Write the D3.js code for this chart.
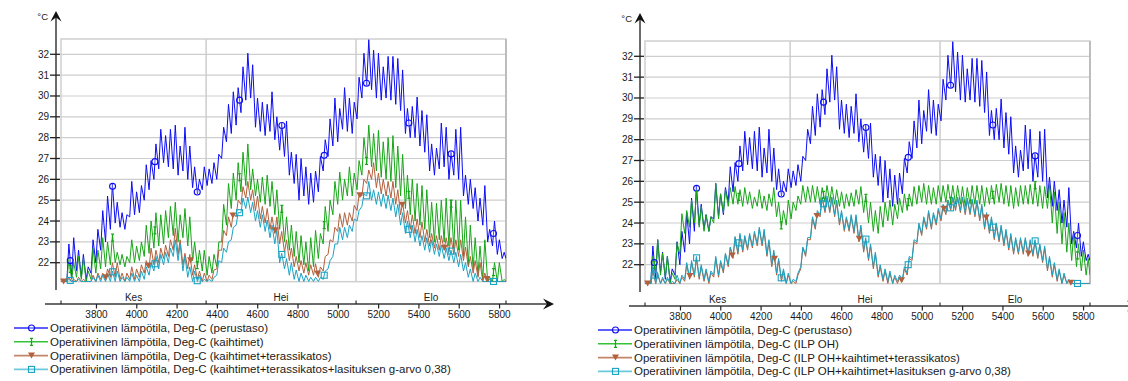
<!DOCTYPE html>
<html><head><meta charset="utf-8">
<script src="https://cdn.jsdelivr.net/npm/d3@7"></script>
<style>
body{margin:0;background:#fff}
svg{display:block}
text{font-family:"Liberation Sans",Arial,sans-serif;fill:#1a1a1a}
</style>
</head><body>
<svg id="c" width="1128" height="381"></svg>
<script>
// ---------- data ----------
const startHour = 3624, endHour = 5832;          // 1.6. – 1.9. (hours of year)
const yTicks = [22,23,24,25,26,27,28,29,30,31,32];
const xTicks = [3800,4000,4200,4400,4600,4800,5000,5200,5400,5600,5800];
const monthNames = ["Kes","Hei","Elo"];
const monthStarts = [3624,4344,5088,5832];
const unitLabel = "°C";

// daily maxima / minima, one value per day (92 days)
const baseMax = [
21.1,22.9,23.2,22.6,22.4,21.8,23.1,23.6,24.5,25.2,
25.8,24.9,24.4,24.3,25.9,25.4,25.7,26.7,26.9,27.7,
28.4,28.1,28.4,28.6,27.6,28.5,27.6,26.6,26.0,26.6,
26.5,26.8,27.2,28.5,29.6,30.2,30.4,31.4,32.05,31.5,
29.9,29.7,29.6,30.2,29.0,28.7,28.8,27.3,27.2,27.0,
26.6,26.3,26.4,27.1,27.9,28.9,29.9,29.4,30.4,29.9,
29.7,30.9,32.05,32.7,32.2,32.05,31.4,31.9,31.9,31.8,
31.25,29.4,29.5,29.95,29.3,29.1,27.7,27.5,28.7,28.5,
27.3,28.4,28.5,26.2,26.0,25.6,25.1,25.7,23.6,24.0,
23.1,22.5];
const baseMin = [
21.1,21.1,21.3,21.6,21.3,21.2,21.5,22.0,22.6,23.0,
23.6,23.9,23.7,23.6,24.2,24.3,24.4,25.0,25.5,26.0,
26.5,26.8,26.6,26.5,26.2,26.4,26.0,25.6,25.3,25.5,
25.7,25.8,26.0,27.0,27.8,28.2,28.6,29.2,29.8,29.9,
28.5,28.3,28.1,28.3,27.9,27.4,27.1,26.2,25.8,25.0,
25.2,24.8,24.9,25.4,26.4,27.1,27.6,27.8,28.4,28.3,
28.2,28.9,29.9,30.5,30.3,29.9,29.8,29.9,29.8,29.6,
29.3,28.2,28.0,28.0,27.6,27.3,26.4,26.2,26.5,26.6,
26.0,26.2,26.0,25.2,24.8,24.6,24.0,23.8,23.0,22.8,
22.4,22.2];

// left chart
const blindsMax = [
21.1,22.2,22.0,22.3,22.2,21.6,22.7,22.6,23.2,23.0,
23.3,22.5,22.4,22.3,23.1,22.8,23.0,23.8,24.0,24.4,
24.3,24.5,24.7,24.9,24.3,24.6,24.2,23.0,22.6,22.6,
22.3,22.4,23.0,24.8,25.8,26.3,26.8,27.3,27.7,26.5,
26.0,26.1,26.2,25.9,25.5,24.7,24.2,23.8,23.5,23.3,
23.0,23.2,23.55,23.4,24.7,25.0,25.9,26.35,26.0,26.6,
26.3,26.9,28.0,28.6,28.2,28.35,27.8,28.0,28.1,27.6,
27.2,26.2,26.0,25.8,25.7,25.5,24.9,24.85,25.0,25.1,
25.0,25.0,25.0,24.2,23.8,23.2,22.8,23.1,21.3,22.0,
22.0,21.2];
const blindsMin = [
21.1,21.1,21.2,21.3,21.2,21.1,21.2,21.5,21.7,21.8,
21.9,22.0,21.9,21.8,22.0,22.0,22.1,22.3,22.45,22.7,
22.8,22.9,23.2,23.3,23.0,23.2,22.8,22.1,21.8,21.6,
21.4,21.5,21.8,23.0,23.8,24.6,25.0,25.4,25.7,25.5,
25.2,24.9,24.8,24.7,24.3,23.6,23.0,22.6,22.3,22.0,
21.9,21.6,21.8,22.2,22.9,23.5,24.3,24.8,25.0,25.2,
25.2,25.5,26.2,26.8,26.6,26.4,26.1,26.0,25.9,25.6,
25.2,24.6,24.3,24.0,23.8,23.6,23.2,23.0,23.1,23.0,
22.8,22.7,22.6,22.3,21.9,21.7,21.4,21.2,21.1,21.1,
21.1,21.1];
const roofMax = [
21.1,21.3,21.2,21.3,21.2,21.1,21.4,21.5,21.5,21.7,
22.0,22.0,21.5,21.5,21.8,21.7,21.9,22.1,22.7,22.6,
22.7,22.85,23.1,23.65,23.1,22.45,22.4,21.9,21.6,21.5,
21.4,21.65,22.6,23.55,24.2,24.4,25.0,25.65,25.9,25.5,
25.2,24.7,24.6,24.2,24.2,23.5,23.1,22.7,22.3,22.1,
22.0,21.9,21.95,21.8,22.3,23.1,23.7,24.35,24.4,24.4,
24.75,25.25,26.0,26.45,26.8,26.3,26.0,25.9,25.9,25.5,
24.9,24.5,24.3,24.1,23.95,23.6,23.4,23.3,23.3,23.2,
23.2,23.1,23.1,22.75,22.3,22.1,22.0,21.5,21.2,21.1,
21.1,21.1];
const roofMin = [
21.1,21.1,21.1,21.1,21.1,21.1,21.1,21.1,21.2,21.2,
21.3,21.3,21.2,21.1,21.2,21.2,21.3,21.5,21.75,21.9,
22.0,22.2,22.3,22.6,22.4,21.9,21.7,21.4,21.2,21.1,
21.1,21.2,21.7,22.6,23.3,23.7,24.2,24.8,25.1,25.0,
24.5,24.1,23.9,23.6,23.4,22.9,22.5,22.1,21.8,21.6,
21.5,21.4,21.4,21.3,21.6,22.4,23.0,23.5,23.7,23.8,
24.0,24.5,25.2,25.8,26.0,25.6,25.3,25.2,25.1,24.8,
24.3,23.9,23.6,23.4,23.2,23.0,22.8,22.7,22.6,22.6,
22.5,22.4,22.3,22.1,21.8,21.5,21.3,21.1,21.1,21.1,
21.1,21.1];
const glazingMax = [
21.1,21.2,21.1,21.2,21.1,21.1,21.3,21.4,21.4,21.5,
21.6,21.6,21.3,21.3,21.5,21.4,21.6,21.8,22.0,22.3,
22.4,22.5,22.7,23.1,22.9,22.3,21.8,21.6,21.4,21.2,
21.2,21.3,22.1,22.7,23.0,23.7,24.4,25.1,25.15,24.9,
24.5,24.3,24.05,23.8,23.6,22.45,22.2,22.0,21.65,21.5,
21.4,21.3,21.3,21.3,21.6,22.1,22.9,23.7,23.7,23.8,
24.1,24.5,25.3,25.9,25.5,25.4,25.3,25.25,25.1,24.8,
24.4,24.0,23.8,23.6,23.3,23.2,23.1,22.9,22.85,22.7,
22.6,22.5,22.4,22.0,21.7,21.5,21.3,21.1,21.1,21.1,
21.1,21.1];
const glazingMin = [
21.1,21.1,21.1,21.1,21.1,21.1,21.1,21.1,21.1,21.1,
21.1,21.1,21.1,21.1,21.1,21.1,21.1,21.2,21.4,21.6,
21.7,21.9,22.0,22.3,22.1,21.6,21.3,21.1,21.1,21.1,
21.1,21.1,21.4,22.0,22.5,23.1,23.8,24.4,24.6,24.4,
24.0,23.7,23.5,23.2,22.9,22.0,21.7,21.4,21.2,21.1,
21.1,21.1,21.1,21.1,21.2,21.7,22.3,22.9,23.1,23.2,
23.5,24.0,24.7,25.2,25.0,24.8,24.7,24.6,24.5,24.2,
23.8,23.4,23.2,23.0,22.8,22.6,22.5,22.4,22.3,22.2,
22.1,22.0,21.8,21.6,21.3,21.1,21.1,21.1,21.1,21.1,
21.1,21.1];

// right chart
const hpMax = [
21.1,22.4,23.2,22.55,22.4,21.6,23.05,24.45,24.6,25.1,
25.5,24.8,24.4,24.3,25.9,25.4,25.6,25.7,25.75,25.6,
25.7,25.5,25.25,25.6,25.3,25.4,25.7,25.0,24.6,25.1,
25.0,25.3,25.8,25.75,25.8,25.75,25.7,25.8,25.75,25.6,
25.5,25.4,25.45,25.6,25.75,25.3,25.0,24.6,24.8,25.0,
25.1,24.9,25.2,25.4,25.4,25.75,25.8,25.9,25.8,25.7,
25.8,25.8,25.85,25.8,25.8,25.75,25.7,25.8,25.8,25.8,
25.7,25.8,25.85,25.9,25.8,25.8,25.7,25.8,25.8,25.85,
25.9,25.8,25.75,25.9,25.5,25.0,24.5,24.0,23.5,23.0,
22.7,22.3];
const hpMin = [
21.1,21.1,21.6,21.5,21.4,21.1,21.3,22.5,23.5,23.8,
24.0,23.8,23.6,23.6,24.0,24.2,24.5,24.8,24.9,24.9,
24.8,24.9,24.7,24.8,24.7,24.6,24.8,24.3,23.8,23.9,
24.2,24.6,24.9,25.0,25.0,25.0,24.9,25.0,25.0,24.9,
24.8,24.7,24.8,24.8,24.9,24.5,24.0,23.6,23.5,23.8,
24.1,23.9,24.2,24.5,24.6,24.8,24.9,25.0,24.9,24.9,
24.9,25.0,25.0,25.0,24.9,24.9,24.8,24.9,24.9,24.9,
24.8,24.9,24.9,25.0,24.9,24.8,24.7,24.8,24.9,24.9,
24.9,24.8,24.7,24.7,24.0,23.5,23.0,22.6,22.2,21.9,
21.7,21.5];
const hpRoofMax = [
21.1,21.7,21.5,21.3,21.3,21.1,21.3,21.4,22.0,22.1,
22.3,21.9,21.7,21.6,22.3,22.1,22.5,22.8,23.3,23.4,
23.3,23.4,23.5,23.7,23.6,23.1,22.6,22.2,21.7,21.5,
21.2,21.5,22.8,23.2,24.2,24.5,25.2,25.2,25.2,25.0,
24.5,24.2,24.3,24.3,23.8,23.2,22.9,22.5,21.9,21.7,
21.6,21.4,21.4,21.8,22.3,23.1,23.9,24.2,24.5,24.4,
24.6,24.8,25.1,25.2,25.2,25.2,25.1,25.1,25.0,24.8,
24.4,24.2,23.9,23.8,23.6,23.4,23.2,23.2,23.2,23.1,
23.1,22.9,22.8,22.3,22.0,21.7,21.5,21.2,21.1,21.1,
21.1,21.1];
const hpRoofMin = [
21.1,21.1,21.1,21.1,21.1,21.1,21.1,21.1,21.2,21.3,
21.4,21.3,21.2,21.1,21.4,21.4,21.6,21.9,22.3,22.5,
22.6,22.7,22.8,22.9,22.9,22.4,21.9,21.5,21.2,21.1,
21.1,21.1,21.8,22.4,23.2,23.7,24.3,24.5,24.5,24.3,
23.9,23.6,23.6,23.5,23.1,22.6,22.2,21.8,21.4,21.2,
21.1,21.1,21.1,21.2,21.5,22.2,23.0,23.4,23.7,23.7,
23.9,24.1,24.4,24.6,24.6,24.5,24.4,24.4,24.3,24.1,
23.7,23.5,23.2,23.1,22.9,22.7,22.5,22.5,22.5,22.4,
22.4,22.3,22.1,21.7,21.4,21.2,21.1,21.1,21.1,21.1,
21.1,21.1];
const hpGlazingMax = [
21.1,21.9,21.6,21.4,21.4,21.2,21.5,21.5,22.1,22.2,
22.4,22.0,21.8,21.7,22.4,22.2,22.55,22.85,23.35,23.5,
23.4,23.5,23.6,23.8,23.7,23.2,22.7,22.3,21.8,21.6,
21.3,21.6,22.85,23.3,24.3,24.6,25.25,25.3,25.25,25.1,
24.6,24.3,24.4,24.4,23.9,23.3,23.0,22.6,22.0,21.8,
21.7,21.5,21.5,21.9,22.4,23.2,24.0,24.3,24.6,24.5,
24.7,24.9,25.1,25.25,25.25,25.25,25.2,25.15,25.1,24.9,
24.5,24.3,24.0,23.9,23.7,23.5,23.3,23.3,23.3,23.2,
23.2,23.0,22.9,22.4,22.1,21.8,21.6,21.3,21.1,21.1,
21.1,21.1];
const hpGlazingMin = [
21.1,21.1,21.1,21.1,21.1,21.1,21.1,21.1,21.3,21.4,
21.5,21.4,21.3,21.2,21.5,21.5,21.7,22.0,22.4,22.6,
22.7,22.8,22.9,23.0,23.0,22.5,22.0,21.6,21.3,21.1,
21.1,21.2,21.9,22.5,23.3,23.8,24.4,24.6,24.6,24.4,
24.0,23.7,23.7,23.6,23.2,22.7,22.3,21.9,21.5,21.3,
21.2,21.1,21.2,21.3,21.6,22.3,23.1,23.5,23.8,23.8,
24.0,24.2,24.5,24.7,24.7,24.6,24.5,24.5,24.4,24.2,
23.8,23.6,23.3,23.2,23.0,22.8,22.6,22.6,22.6,22.5,
22.5,22.4,22.2,21.8,21.5,21.3,21.1,21.1,21.1,21.1,
21.1,21.1];

const leftLabels = [
 "Operatiivinen lämpötila, Deg-C (perustaso)",
 "Operatiivinen lämpötila, Deg-C (kaihtimet)",
 "Operatiivinen lämpötila, Deg-C (kaihtimet+terassikatos)",
 "Operatiivinen lämpötila, Deg-C (kaihtimet+terassikatos+lasituksen g-arvo 0,38)"];
const rightLabels = [
 "Operatiivinen lämpötila, Deg-C (perustaso)",
 "Operatiivinen lämpötila, Deg-C (ILP OH)",
 "Operatiivinen lämpötila, Deg-C (ILP OH+kaihtimet+terassikatos)",
 "Operatiivinen lämpötila, Deg-C (ILP OH+kaihtimet+lasituksen g-arvo 0,38)"];

// ---------- drawing ----------
const styles = [
  {color:"#0c0cf5", legend:"#2a2aff", marker:"circle"},
  {color:"#17a617", legend:"#33c433", marker:"ibar"},
  {color:"#b2603d", legend:"#c48468", marker:"tri"},
  {color:"#1aa3c4", legend:"#6cc9dc", marker:"square"}
];

function toPoints(maxArr, minArr){
  const pts = [];
  maxArr.forEach((mx, d) => {
    const h0 = startHour + d*24;
    pts.push([h0 + 5, minArr[d]]);
    pts.push([h0 + 15, mx]);
  });
  pts.unshift([startHour, minArr[0]]);
  pts.push([endHour, minArr[minArr.length-1]]);
  return pts;
}
function valueAt(pts, h){
  for (let i=1;i<pts.length;i++){
    if (pts[i][0] >= h){
      const a=pts[i-1], b=pts[i];
      return a[1] + (b[1]-a[1])*(h-a[0])/(b[0]-a[0]);
    }
  }
  return pts[pts.length-1][1];
}

function drawMarker(g, type, x, y, color){
  if (type==="circle"){
    g.append("circle").attr("cx",x).attr("cy",y).attr("r",3)
      .attr("fill","#fff").attr("fill-opacity",0.3).attr("stroke",color).attr("stroke-width",1.1);
  } else if (type==="ibar"){
    g.append("path").attr("d",`M${x},${y-3.5}V${y+3.5}M${x-1.5},${y-3.5}H${x+1.5}M${x-1.5},${y+3.5}H${x+1.5}`)
      .attr("stroke",color).attr("stroke-width",1.2).attr("fill","none");
  } else if (type==="tri"){
    g.append("path").attr("d",`M${x-3.5},${y-3}L${x+3.5},${y-3}L${x},${y+3}Z`).attr("fill",color);
  } else {
    g.append("rect").attr("x",x-3).attr("y",y-3).attr("width",6).attr("height",6)
      .attr("fill","none").attr("stroke",color).attr("stroke-width",1.1);
  }
}

const svg = d3.select("#c");

function chart(dx, dy, seriesData, labels, id){
  const g = svg.append("g").attr("transform",`translate(${dx},${dy})`);
  const x = d3.scaleLinear().domain([startHour,endHour]).range([61,506]);
  const y = d3.scaleLinear().domain([22,32]).range([262.7,54.3]);
  const top = 39, bottom = y(21.09);

  // grid
  g.append("g").selectAll("line").data(yTicks).join("line")
    .attr("x1",61).attr("x2",506).attr("y1",d=>y(d)).attr("y2",d=>y(d))
    .attr("stroke","#cdcdcd").attr("stroke-width",1.2);
  g.append("g").selectAll("line").data(monthStarts.slice(1,3)).join("line")
    .attr("x1",d=>x(d)).attr("x2",d=>x(d)).attr("y1",top).attr("y2",bottom)
    .attr("stroke","#cdcdcd").attr("stroke-width",1.5);
  g.append("rect").attr("x",61).attr("y",top).attr("width",445).attr("height",bottom-top)
    .attr("fill","none").attr("stroke","#cfcfcf").attr("stroke-width",1.5);
  g.append("line").attr("x1",506).attr("x2",506).attr("y1",top).attr("y2",bottom)
    .attr("stroke","#bdbdbd").attr("stroke-width",2);

  // series
  g.append("clipPath").attr("id","clip"+id).append("rect")
    .attr("x",61).attr("y",top).attr("width",445).attr("height",bottom-top+1);
  const sg = g.append("g").attr("clip-path",`url(#clip${id})`);
  const line = d3.line().x(d=>x(d[0])).y(d=>y(d[1]));
  const mg = g.append("g");
  seriesData.forEach((s, i) => {
    const st = styles[i];
    const pts = toPoints(s[0], s[1]);
    sg.append("path").attr("d",line(pts)).attr("fill","none")
      .attr("stroke",st.color).attr("stroke-width",1).attr("stroke-linejoin","round");
    const off = st.marker==="tri" ? 3637 : 3670;
    for (let h=off; h<endHour; h+=210){
      drawMarker(mg, st.marker, x(h), y(valueAt(pts,h)), st.color);
    }
  });

  // y axis
  const axc = "#3a3a3a";
  g.append("line").attr("x1",56).attr("x2",56).attr("y1",290).attr("y2",16)
    .attr("stroke",axc).attr("stroke-width",1.5);
  g.append("path").attr("d","M56,11L61.5,21.5L56,17.5L50.5,21.5Z").attr("fill","#111");
  g.append("g").selectAll("line").data(yTicks).join("line")
    .attr("x1",50).attr("x2",60).attr("y1",d=>y(d)).attr("y2",d=>y(d))
    .attr("stroke","#222").attr("stroke-width",1.3);
  g.append("g").selectAll("text").data(yTicks).join("text")
    .attr("x",49).attr("y",d=>y(d)+3.5).attr("text-anchor","end")
    .attr("font-size","10px").text(d=>d);
  g.append("text").attr("x",48).attr("y",20).attr("text-anchor","end")
    .attr("font-size","9.5px").text(unitLabel);

  // x axis
  const ay = 304;
  g.append("line").attr("x1",45).attr("x2",548).attr("y1",ay).attr("y2",ay)
    .attr("stroke",axc).attr("stroke-width",1.5);
  g.append("path").attr("d",`M554,${ay}L543,${ay-5.5}L547,${ay}L543,${ay+5.5}Z`).attr("fill","#111");
  g.append("g").selectAll("line").data(xTicks).join("line")
    .attr("x1",d=>x(d)).attr("x2",d=>x(d)).attr("y1",ay).attr("y2",ay+4.5)
    .attr("stroke","#222").attr("stroke-width",1.2);
  g.append("g").selectAll("text").data(xTicks).join("text")
    .attr("x",d=>x(d)).attr("y",ay+14).attr("text-anchor","middle")
    .attr("font-size","10px").text(d=>d);
  g.append("g").selectAll("line").data(monthStarts).join("line")
    .attr("x1",d=>x(d)).attr("x2",d=>x(d)).attr("y1",ay-3.5).attr("y2",ay)
    .attr("stroke","#222").attr("stroke-width",1.1);
  g.append("g").selectAll("text").data(monthNames).join("text")
    .attr("x",(d,i)=>x((monthStarts[i]+monthStarts[i+1])/2)).attr("y",ay-3.5)
    .attr("text-anchor","middle").attr("font-size","10px").text(d=>d);

  // legend
  labels.forEach((lab, i) => {
    const st = styles[i];
    const ly = 328 + i*13.8;
    g.append("line").attr("x1",14).attr("x2",48).attr("y1",ly).attr("y2",ly)
      .attr("stroke",st.legend).attr("stroke-width",1.6);
    drawMarker(g, st.marker, 31.5, ly, st.color);
    g.append("text").attr("x",50).attr("y",ly+4).attr("font-size","11.5px").text(lab);
  });
}

chart(0, 0, [[baseMax,baseMin],[blindsMax,blindsMin],[roofMax,roofMin],[glazingMax,glazingMin]], leftLabels, "L");
chart(584, 2, [[baseMax,baseMin],[hpMax,hpMin],[hpRoofMax,hpRoofMin],[hpGlazingMax,hpGlazingMin]], rightLabels, "R");
</script>
</body></html>
